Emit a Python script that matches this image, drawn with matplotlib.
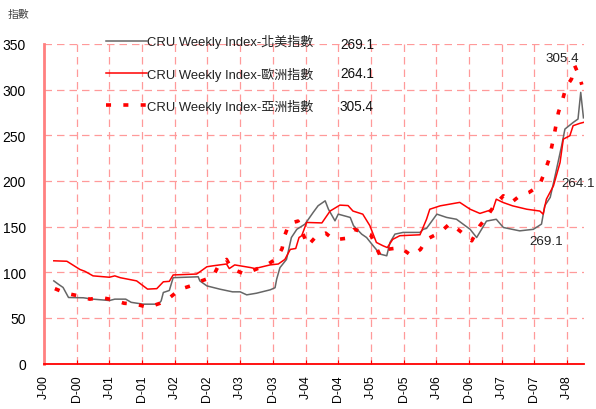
import matplotlib
matplotlib.use("Agg")
import matplotlib.pyplot as plt

plt.rcParams['font.family'] = ['Liberation Sans', 'Noto Sans CJK TC']

# x = months since Jun-2000
tick_labels = ["J-00", "D-00", "J-01", "D-01", "J-02", "D-02", "J-03", "D-03", "J-04",
               "D-04", "J-05", "D-05", "J-06", "D-06", "J-07", "D-07", "J-08"]
tick_pos = [6 * i for i in range(len(tick_labels))]

na_x = [1.8, 2.6, 3.5, 4.5, 7.2, 9, 12, 13, 15, 16, 18.2, 21, 21.5, 21.9, 23, 23.7, 28.3, 28.6,
        29.9, 32.3, 34.6, 36, 37.2, 39, 41.5, 42.4, 42.7, 43.3, 44.5, 45.4, 46.4, 47.9, 49.4,
        50.3, 51.6, 52.2, 53.4, 54, 56.2, 56.8, 58.3, 59.2, 60.4, 61.7, 62.9, 63.5, 64.4, 65.9,
        69, 69.6, 70.2, 72.1, 73.9, 75.7, 78.2, 79.4, 81.2, 83, 84.3, 87.3, 89.8, 91.3, 91.9,
        92.9, 93.8, 95, 95.6, 97.1, 98, 98.5, 99]
na_v = [90.5, 87, 83.3, 72.3, 72, 70.5, 69, 70.5, 70.5, 67, 65, 65, 68.6, 77.8, 80, 94, 95, 90.5,
        85, 81.4, 78.5, 78.5, 75.2, 77, 80.7, 83, 92.4, 105, 114, 138, 147, 152.7, 165.5,
        172.8, 178.2, 169, 156.3, 163.6, 160, 151, 141.7, 138, 129, 119.8, 118, 132.6, 141.7, 143.6,
        143.6, 147, 148, 163.6, 160, 158, 147, 138, 156, 158, 149, 145.3, 147, 152.7, 172.8,
        182, 205.7, 238.7, 256.8, 264, 267.8, 297, 269.1]

eu_x = [1.8, 4.2, 5.0, 6.6, 7.5, 9.0, 12, 13, 14, 17, 19, 20.7, 21.9, 23.0, 23.7, 28, 28.6, 29.9,
        31, 33.5, 34, 35, 36, 38, 38.7, 41.5, 43, 44.2, 45.2, 46.2, 46.8, 47.3, 48.2, 51, 52.5,
        54.3, 55.8, 56.7, 58.5, 59.8, 61, 62.2, 63, 64, 65.3, 69, 70.2, 70.8, 72.7, 76.3, 78.2,
        80, 82.4, 83, 84.2, 86, 88.6, 91, 91.6, 92.2, 93.5, 94.7, 95.3, 96.5, 97.1, 98.3, 99]
eu_v = [112.5, 112, 109, 103, 101, 96, 94.5, 96, 94, 90.5, 81.5, 82, 89.5, 90, 97, 98, 100.4, 106,
        107, 109, 104, 108, 107, 105, 104, 108, 109, 114, 125, 126, 138, 140, 154.5, 154, 167,
        173.5, 173, 167, 163.6, 151, 132.6, 129, 127, 136, 140, 141, 158, 169, 172.7, 176.5, 169,
        164.4, 169, 180, 176.5, 172.7, 169, 167, 163.6, 180, 194.7, 220, 245.8, 249.5, 260.5, 263, 264.1]

as_x = [2, 4, 6.4, 8.4, 10.5, 12.7, 14.7, 16.9, 19.1, 21.3, 23.1, 25, 26.9, 28.9, 31, 32, 33.5,
        34.4, 36.8, 38.8, 40.9, 42.7, 43.7, 44.2, 45, 46.6, 48.4, 49.9, 51.7, 53.2, 55.3, 56.9,
        58.5, 60, 60.7, 61.7, 62.9, 65.4, 67.5, 69.1, 70.2, 72.7, 74.5, 76.3, 78.5, 80, 81.2,
        82.8, 84.3, 85.8, 87.3, 89, 90.9, 91.8, 92.7, 93.6, 94.4, 95.2, 95.8, 96.8, 97.4, 98.2, 98.7]
as_v = [82, 77, 74, 70.5, 72.3, 69.7, 66, 65, 61.4, 66, 72.3, 81.4, 85, 90.5, 95, 107, 114,
        104, 98, 103, 108, 115, 126, 140.6, 153.4, 156, 129, 139, 142.8, 135.5, 137, 147,
        144, 140.6, 130.7, 118, 125, 127, 118, 125, 136, 143.6, 153.4, 145.3, 134.4, 151, 160,
        174.6, 183.7, 176.5, 183.7, 187.4, 194.7, 208.6, 224, 249.5, 275, 289.7, 302.5, 311.6, 326.2, 315.2, 305.4]

labels = ["CRU Weekly Index-北美指數", "CRU Weekly Index-歐洲指數", "CRU Weekly Index-亞洲指數"]
latest = ["269.1", "264.1", "305.4"]

W, H = 596, 410
fig = plt.figure(figsize=(W / 100, H / 100), dpi=100)
ax = fig.add_axes([44 / W, 1 - 364.5 / H, (584 - 44) / W, (364.5 - 45) / H])

l1, = ax.plot(na_x, na_v, color='#666666', lw=1.1, label=labels[0])
l2, = ax.plot(eu_x, eu_v, color='#ff0000', lw=1.1, label=labels[1])
l3, = ax.plot(as_x, as_v, color='#ff0000', lw=2.6, linestyle=(0, (1.4, 3.4)),
              dash_capstyle='butt', label=labels[2])

ax.set_xlim(0, 99.1)
ax.set_ylim(0, 350)
ax.set_yticks(range(0, 351, 50))
ax.set_xticks(tick_pos)
ax.set_xticklabels(tick_labels, rotation=90, fontsize=8.8)
ax.tick_params(axis='y', length=0, labelsize=10, pad=13)
ax.tick_params(axis='x', length=3, direction='in', color='#ff0000', pad=8)

ax.grid(True, color='#ff9a9a', linestyle=(0, (6, 4)), lw=0.9)
for s in ['top', 'right']:
    ax.spines[s].set_visible(False)
ax.spines['left'].set_color('#ff8080')
ax.spines['left'].set_linewidth(2)
ax.spines['bottom'].set_color('#ff0000')
ax.spines['bottom'].set_linewidth(1.3)

leg = ax.legend(handles=[l1, l2, l3], loc='upper left', bbox_to_anchor=(101 / W, 1 - 30 / H),
                bbox_transform=fig.transFigure, frameon=False, fontsize=9.4,
                handlelength=3.1, handletextpad=0.05, labelspacing=1.4, borderaxespad=0)
for t in leg.get_texts():
    t.set_color('#222222')

legend_val_y = [45, 74, 107]
for v, yy in zip(latest, legend_val_y):
    fig.text(340 / W, 1 - yy / H, v, fontsize=9.8, va='center', ha='left', color='#111111')

# end labels
ax.annotate(latest[0], xy=(na_x[-1], na_v[-1]), xytext=(546, H - 242), textcoords='figure pixels',
            fontsize=9.6, ha='center', va='center', color='#222222')
ax.annotate(latest[1], xy=(eu_x[-1], eu_v[-1]), xytext=(578, H - 184), textcoords='figure pixels',
            fontsize=9.6, ha='center', va='center', color='#222222')
ax.annotate(latest[2], xy=(as_x[-1], as_v[-1]), xytext=(562, H - 59), textcoords='figure pixels',
            fontsize=9.6, ha='center', va='center', color='#222222')

fig.text(8 / W, 1 - 15 / H, "指數", fontsize=7.8, va='center', ha='left', color='#444444')

fig.savefig("out.png", dpi=100)
